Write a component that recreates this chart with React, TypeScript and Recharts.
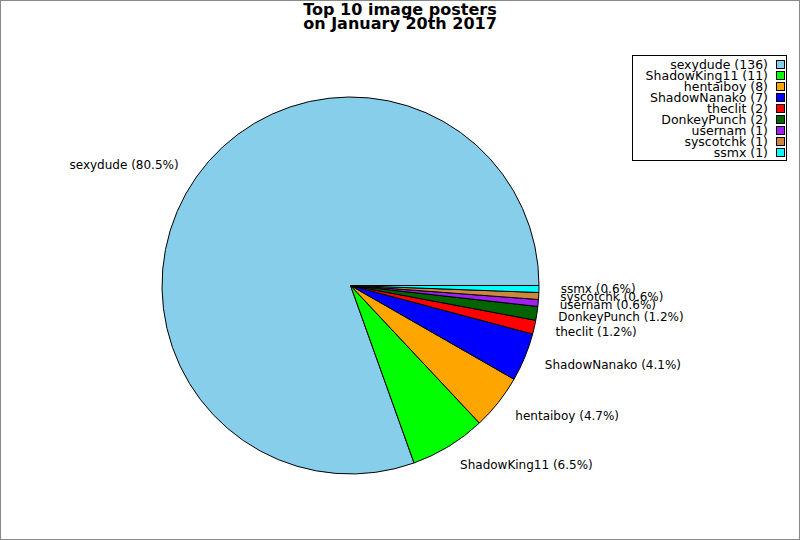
import React from "react";
import { PieChart, Pie, Cell, Legend } from "recharts";

const names = [
  "sexydude",
  "ShadowKing11",
  "hentaiboy",
  "ShadowNanako",
  "theclit",
  "DonkeyPunch",
  "usernam",
  "syscotchk",
  "ssmx",
];
const counts = [136, 11, 8, 7, 2, 2, 1, 1, 1];
const colors = [
  "#87ceeb",
  "#00ff00",
  "#ffa500",
  "#0000ff",
  "#ff0000",
  "#006400",
  "#a020f0",
  "#cd853f",
  "#00ffff",
];

const total = counts.reduce((a, b) => a + b, 0);
const data = names.map((name, i) => ({ name, value: counts[i], color: colors[i] }));

const FONT = "'DejaVu Sans', sans-serif";
const RADIAN = Math.PI / 180;

const renderLabel = (props: any) => {
  const { cx, cy, midAngle, outerRadius, index } = props;
  const r = outerRadius * 1.115;
  const x = cx + r * Math.cos(-midAngle * RADIAN);
  const y = cy + r * Math.sin(-midAngle * RADIAN);
  const pct = ((counts[index] / total) * 100).toFixed(1);
  return (
    <text
      x={x}
      y={y}
      fontSize={12}
      fontFamily={FONT}
      fill="#000"
      textAnchor={x > cx ? "start" : "end"}
      dominantBaseline="central">
      {`${names[index]} (${pct}%)`}
    </text>
  );
};

const renderLegend = () => (
  <div
    style={{
      border: "1px solid #000",
      width: 155,
      height: 106,
      boxSizing: "border-box",
      padding: "3px 0 0 0",
      fontFamily: FONT,
      fontSize: 12.5,
      lineHeight: "11px",
      background: "#fff",
    }}>
    {data.map((d) => (
      <div
        key={d.name}
        style={{ display: "flex", justifyContent: "flex-end", alignItems: "center", height: 11 }}>
        <span style={{ marginRight: 8 }}>{`${d.name} (${d.value})`}</span>
        <span
          style={{
            width: 7,
            height: 7,
            background: d.color,
            border: "1px solid #000",
            marginRight: 1,
          }}
        />
      </div>
    ))}
  </div>
);

const App = () => {
  return (
    <div
      style={{
        position: "absolute",
        left: 0,
        top: 0,
        width: 800,
        height: 540,
        border: "1px solid #888",
        boxSizing: "border-box",
        background: "#fff",
        overflow: "hidden",
      }}>
      <div
        style={{
          position: "absolute",
          left: 0,
          top: 2,
          width: 798,
          textAlign: "center",
          fontFamily: FONT,
          fontWeight: "bold",
          fontSize: 16,
          lineHeight: "14px",
        }}>
        <div>Top 10 image posters</div>
        <div>on January 20th 2017</div>
      </div>
      <PieChart width={798} height={538} margin={{ top: 0, right: 0, bottom: 0, left: 0 }}>
        <Pie
          data={data}
          dataKey="value"
          nameKey="name"
          cx={349.5}
          cy={284.5}
          outerRadius={188.5}
          startAngle={0}
          endAngle={360}
          stroke="#000"
          strokeWidth={1}
          label={renderLabel}
          labelLine={false}
          isAnimationActive={false}>
          {data.map((d, i) => (
            <Cell key={`cell-${i}`} fill={d.color} />
          ))}
        </Pie>
        <Legend
          content={renderLegend}
          layout="vertical"
          verticalAlign="top"
          align="right"
          wrapperStyle={{ position: "absolute", left: 631, top: 54, width: 156 }}
        />
      </PieChart>
    </div>
  );
};

export default App;
